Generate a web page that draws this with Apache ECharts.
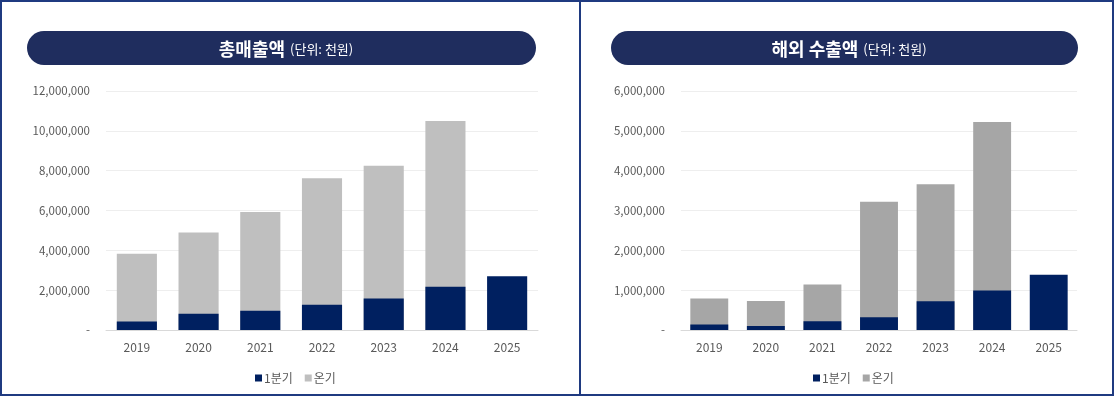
<!DOCTYPE html>
<html><head><meta charset="utf-8">
<script src="https://cdn.jsdelivr.net/npm/echarts@6/dist/echarts.min.js"></script>
<style>html,body{margin:0;padding:0;background:#fff}#c{width:1115px;height:397px}</style>
</head><body><div id="c"></div>
<script>
const years = ['2019','2020','2021','2022','2023','2024','2025'];
// 총매출액 (천원)
const salesQ1 = [430000, 820000, 970000, 1270000, 1580000, 2170000, 2700000];
const salesYear = [3830000, 4900000, 5930000, 7620000, 8250000, 10500000, null];
// 해외 수출액 (천원)
const exportQ1 = [135000, 100000, 220000, 320000, 720000, 990000, 1385000];
const exportYear = [790000, 725000, 1140000, 3220000, 3660000, 5220000, null];
const leftTicks = {min: 0, max: 12000000, interval: 2000000};
const rightTicks = {min: 0, max: 6000000, interval: 1000000};

const FONT = '"Noto Sans CJK KR", "Noto Sans", sans-serif';
const NAVY = '#002060';
const fmt = v => v === 0 ? '-' : v.toLocaleString('en-US');

function yAxis(idx, t) {
  return {
    type: 'value', gridIndex: idx, min: t.min, max: t.max, interval: t.interval,
    axisLine: {show: false}, axisTick: {show: false},
    axisLabel: {formatter: fmt, color: '#595959', fontSize: 11.5, fontFamily: FONT, margin: 16},
    splitLine: {lineStyle: {color: '#eeeeee', width: 1}}
  };
}
function xAxis(idx) {
  return {
    type: 'category', gridIndex: idx, data: years,
    axisLine: {lineStyle: {color: '#d9d9d9', width: 1}}, axisTick: {show: false},
    axisLabel: {color: '#595959', fontSize: 12, fontFamily: FONT, margin: 11}
  };
}
function titleOpt(main, cx) {
  return {
    text: '{a|' + main + '} {b|(단위: 천원)}', left: cx, top: 35, textAlign: 'center',
    textStyle: {rich: {
      a: {color: '#fff', fontSize: 18, fontWeight: 'bold', fontFamily: FONT},
      b: {color: '#fff', fontSize: 13, fontWeight: 'normal', fontFamily: FONT}
    }}
  };
}
function legendOpt(x, gray) {
  return {
    left: x, top: 367, itemWidth: 7, itemHeight: 7, itemGap: 12, icon: 'rect',
    textStyle: {color: '#595959', fontSize: 12, fontFamily: FONT, padding: [0, 0, 0, -3]},
    data: [{name: '1분기', itemStyle: {color: NAVY}}, {name: '온기', itemStyle: {color: gray}}]
  };
}

const chart = echarts.init(document.getElementById('c'));
chart.setOption({
  animation: false,
  graphic: [
    {type: 'rect', shape: {x: 1, y: 1, width: 1112, height: 394}, style: {fill: 'none', stroke: '#1f3a80', lineWidth: 2}, z: 10},
    {type: 'line', shape: {x1: 580, y1: 1, x2: 580, y2: 395}, style: {stroke: '#1f3a80', lineWidth: 2}, z: 10},
    {type: 'rect', shape: {x: 27, y: 31, width: 509, height: 34, r: 17}, style: {fill: '#1f2d5e'}, z: -1},
    {type: 'rect', shape: {x: 611, y: 31, width: 467, height: 34, r: 17}, style: {fill: '#1f2d5e'}, z: -1}
  ],
  title: [titleOpt('총매출액', 281), titleOpt('해외 수출액', 844)],
  legend: [legendOpt(250, '#bfbfbf'), legendOpt(808, '#a6a6a6')],
  grid: [
    {left: 106, top: 91, width: 432, height: 239},
    {left: 681, top: 91, width: 396, height: 239}
  ],
  xAxis: [xAxis(0), xAxis(1)],
  yAxis: [yAxis(0, leftTicks), yAxis(1, rightTicks)],
  series: [
    {name: '온기', type: 'bar', xAxisIndex: 0, yAxisIndex: 0, data: salesYear, barWidth: '65%', barGap: '-100%', itemStyle: {color: '#bfbfbf'}},
    {name: '1분기', type: 'bar', xAxisIndex: 0, yAxisIndex: 0, data: salesQ1, barWidth: '65%', barGap: '-100%', itemStyle: {color: NAVY}},
    {name: '온기', type: 'bar', xAxisIndex: 1, yAxisIndex: 1, data: exportYear, barWidth: '67%', barGap: '-100%', itemStyle: {color: '#a6a6a6'}},
    {name: '1분기', type: 'bar', xAxisIndex: 1, yAxisIndex: 1, data: exportQ1, barWidth: '67%', barGap: '-100%', itemStyle: {color: NAVY}}
  ]
});
</script></body></html>
